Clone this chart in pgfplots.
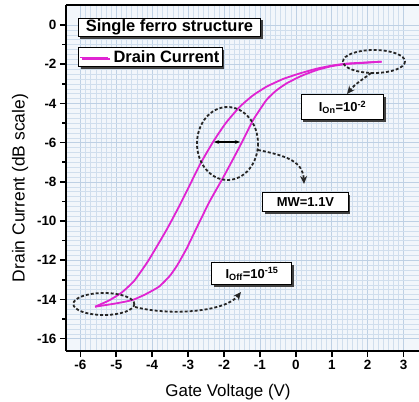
\documentclass[border=0pt]{standalone}
\usepackage{fontspec}
\setmainfont{Liberation Sans}
\usepackage{pgfplots}
\pgfplotsset{compat=1.18}
\usetikzlibrary{calc,shadows,arrows.meta}

\definecolor{curve}{RGB}{224,36,210}
\definecolor{bgblue}{RGB}{242,246,251}
\definecolor{gridminor}{RGB}{208,222,237}
\definecolor{gridmajor}{RGB}{190,208,228}

\tikzset{
  box/.style={draw=black, line width=1bp, fill=white, inner sep=1.5bp,
    font=\fontsize{13}{14}\selectfont\bfseries,
    drop shadow={shadow xshift=2bp, shadow yshift=-2bp, fill=black!75, opacity=1}},
  dsh/.style={black!85, line width=1.8bp, dash pattern=on 3bp off 2bp},
}

\begin{document}
\begin{tikzpicture}
\begin{axis}[
  scale only axis, width=353bp, height=346bp,
  xmin=-6.4, xmax=3.43, ymin=-16.63, ymax=1.02,
  axis x line=box, axis y line=left,
  x axis line style={-}, y axis line style={-},
  axis line style={line width=2.4bp},
  xtick={-6,...,3}, ytick={-16,-14,...,0},
  xtick pos=bottom, ytick pos=left,
  tick align=outside, major tick length=6bp, minor tick length=0bp,
  tick style={black, line width=1.6bp},
  minor x tick num=6, minor y tick num=7,
  grid=both,
  minor grid style={gridminor, line width=0.4bp},
  major grid style={gridmajor, line width=0.5bp},
  extra y ticks={-15,-13,...,-1}, extra y tick labels={},
  extra y tick style={grid=none, major tick length=3.5bp},
  axis background/.style={fill=bgblue},
  /pgf/number format/assume math mode=true,
  tick label style={font=\fontsize{13.5}{14}\selectfont\bfseries},
  xlabel={Gate Voltage (V)}, ylabel={Drain Current (dB scale)},
  every axis x label/.style={at={(rel axis cs:0.459,0)}, yshift=-41bp, anchor=center,
    font=\fontsize{17}{18}\selectfont},
  every axis y label/.style={at={(rel axis cs:0,0.471)}, xshift=-46bp, rotate=90, anchor=center,
    font=\fontsize{17.5}{18}\selectfont},
  legend style={at={(rel axis cs:0.034,0.8786)}, anchor=north west,
    draw=black, line width=1bp, fill=white, inner sep=1bp,
    font=\fontsize{16.5}{17}\selectfont\bfseries,
    nodes={inner sep=2bp},
    drop shadow={shadow xshift=2bp, shadow yshift=-2bp, fill=black!75, opacity=1}},
  legend image code/.code={\draw[#1, line width=1.3bp] (2bp,0bp) -- (30bp,0bp);},
  legend cell align=left,
]
\addplot[curve, line width=1.8bp, smooth, tension=0.3] coordinates {
  (-5.59,-14.37) (-5.2,-14.05) (-4.85,-13.65) (-4.5,-13.05) (-4.1,-12.0)
  (-3.6,-10.45) (-3.25,-9.25) (-2.95,-8.15) (-2.65,-7.05) (-2.3,-5.95)
  (-1.95,-5.0) (-1.56,-4.17) (-1.2,-3.6) (-0.82,-3.15) (-0.35,-2.75)
  (0.11,-2.47) (0.6,-2.22) (1.04,-2.06) (1.41,-1.97) (1.9,-1.92) (2.39,-1.87)
};
\addlegendentry{\,Drain Current\hspace{10bp}}
\addplot[curve, line width=1.8bp, smooth, tension=0.3, forget plot] coordinates {
  (2.39,-1.87) (1.9,-1.93) (1.41,-1.99) (1.0,-2.1) (0.58,-2.30) (0.15,-2.6)
  (-0.26,-2.98) (-0.55,-3.35) (-0.82,-3.83) (-1.19,-4.85) (-1.47,-5.87)
  (-1.75,-6.85) (-2.03,-7.8) (-2.40,-9.0) (-2.75,-10.3) (-3.04,-11.4)
  (-3.3,-12.25) (-3.51,-12.8) (-3.81,-13.35) (-4.2,-13.75) (-4.55,-14.03)
  (-5.0,-14.2) (-5.59,-14.37)
};
\end{axis}

% annotations, in reference pixel units (origin at top-left)
\begin{scope}[shift={($(current axis.north west)+(-66bp,5bp)$)}, x=1bp, y=-1bp]
  \node[box, anchor=north west, font=\fontsize{16.5}{17}\selectfont\bfseries,
        minimum height=17bp, minimum width=182bp] at (78,18) {Single ferro structure};
  % MW
  \draw[dsh] (227.5,143.5) ellipse [x radius=30.5, y radius=36.5];
  \draw[black, line width=1.1bp, {Stealth[length=5bp]}-{Stealth[length=5bp]}] (214,142) -- (240,142);
  \draw[dsh, -{Stealth[length=8bp,width=7bp]}] (258,150) .. controls (288,156) and (303,162) .. (304,184);
  \node[box, minimum width=85bp, minimum height=19bp] at (305.5,202.5) {MW=1.1V};
  % I_on
  \draw[dsh] (374,61.5) ellipse [x radius=31, y radius=11.5];
  \draw[dsh, -{Stealth[length=8bp,width=7bp]}] (371,73) .. controls (362,80) and (355,84) .. (347,94);
  \node[box, minimum width=82bp, minimum height=25bp] at (342.5,107.5) {I\textsubscript{On}=10\textsuperscript{-2}};
  % I_off
  \draw[dsh] (103.8,304) ellipse [x radius=30.5, y radius=11];
  \draw[dsh, -{Stealth[length=8bp,width=7bp]}] (135,307) .. controls (170,316) and (225,312) .. (241,292);
  \node[box, minimum width=80bp, minimum height=22bp] at (252,274) {I\textsubscript{Off}=10\textsuperscript{-15}};
\end{scope}

\pgfresetboundingbox
\path ($(current axis.north west)+(-66bp,5bp)$) rectangle ($(current axis.north west)+(353bp,-397bp)$);
\end{tikzpicture}
\end{document}
